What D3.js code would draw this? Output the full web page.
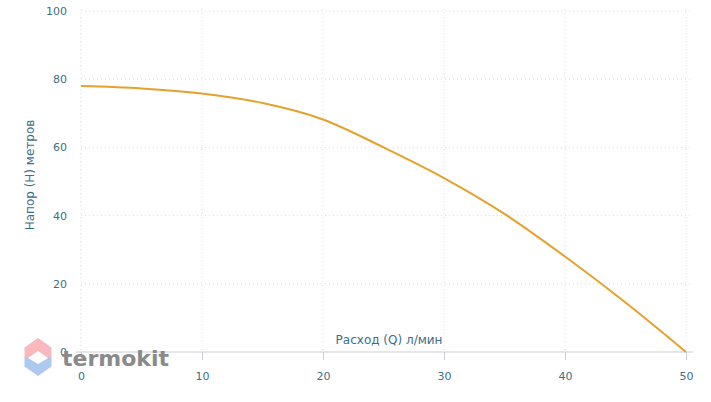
<!DOCTYPE html>
<html><head><meta charset="utf-8">
<script src="https://cdn.jsdelivr.net/npm/d3@7"></script>
<style>body{margin:0;background:#fff;font-family:"DejaVu Sans",sans-serif}</style>
</head><body><svg id="c" width="711" height="402"></svg>
<script>
const flow = [0, 5, 10, 15, 20, 25, 30, 35, 40, 45, 50];
const head = [78, 77.3, 75.8, 73, 68.2, 60, 51, 40.5, 28, 14.5, 0];
const xTicks = [0, 10, 20, 30, 40, 50];
const yTicks = [0, 20, 40, 60, 80, 100];
const xLabel = "Расход (Q) л/мин";
const yLabel = "Напор (H) метров";

const svg = d3.select("#c");
const x = d3.scaleLinear().domain([0, 50]).range([81, 686]);
const y = d3.scaleLinear().domain([0, 100]).range([352, 11]);
const txt = "#3b6f86";
const font = "DejaVu Sans";

// grid
svg.append("g").selectAll("line").data(yTicks.filter(d => d > 0)).join("line")
  .attr("x1", 81).attr("x2", 690).attr("y1", d => y(d)).attr("y2", d => y(d))
  .attr("stroke", "#dcdcdc").attr("stroke-dasharray", "1,3");
svg.append("g").selectAll("line").data(xTicks).join("line")
  .attr("x1", d => x(d)).attr("x2", d => x(d)).attr("y1", 9).attr("y2", 352)
  .attr("stroke", "#dcdcdc").attr("stroke-dasharray", "1,3");

// x axis
const xa = svg.append("g").attr("transform", "translate(0,352)")
  .call(d3.axisBottom(x).tickValues(xTicks).tickSize(8).tickPadding(12));
xa.select(".domain").attr("stroke", "#c9ced3").attr("d", "M76,0H693");
xa.selectAll(".tick line").attr("stroke", "#c9ced3");
xa.selectAll("text").attr("fill", txt).style("font-size", "11px").style("font-family", font);

// y axis
const ya = svg.append("g").attr("transform", "translate(81,0)")
  .call(d3.axisLeft(y).tickValues(yTicks).tickSize(0).tickPadding(14));
ya.select(".domain").remove();
ya.selectAll("text").attr("fill", txt).style("font-size", "11px").style("font-family", font);

svg.append("text").attr("x", 389).attr("y", 344).attr("text-anchor", "middle")
  .attr("fill", txt).style("font-size", "12px").style("font-family", font).text(xLabel);
svg.append("text").attr("transform", "translate(34,175) rotate(-90)").attr("text-anchor", "middle")
  .attr("fill", txt).style("font-size", "12px").style("font-family", font).text(yLabel);

// watermark
const wm = svg.append("g").attr("opacity", 0.75);
const hx = 38, hy = 357, rw = 13.5, rh = 19;
const hex = [[hx, hy - rh], [hx + rw, hy - rh / 2], [hx + rw, hy + rh / 2], [hx, hy + rh], [hx - rw, hy + rh / 2], [hx - rw, hy - rh / 2]];
wm.append("clipPath").attr("id", "top").append("rect").attr("x", 0).attr("y", 0).attr("width", 80).attr("height", hy);
wm.append("clipPath").attr("id", "bot").append("rect").attr("x", 0).attr("y", hy).attr("width", 80).attr("height", 60);
wm.append("polygon").attr("points", hex.join(" ")).attr("fill", "#f7a1a8").attr("clip-path", "url(#top)");
wm.append("polygon").attr("points", hex.join(" ")).attr("fill", "#92b7ea").attr("clip-path", "url(#bot)");
wm.append("polygon").attr("points", [[hx - 10, hy + 1], [hx, hy - 6], [hx + 10, hy + 1], [hx, hy + 7]].join(" ")).attr("fill", "#fff");
svg.append("text").attr("x", 62).attr("y", 366).attr("fill", "#8a8a8a")
  .style("font-size", "22px").style("font-weight", "bold").style("font-family", font).text("termokit");

// curve
svg.append("path").datum(flow.map((f, i) => [f, head[i]]))
  .attr("d", d3.line().x(d => x(d[0])).y(d => y(d[1])).curve(d3.curveMonotoneX))
  .attr("fill", "none").attr("stroke", "#e6a02c").attr("stroke-width", 2);
</script></body></html>
